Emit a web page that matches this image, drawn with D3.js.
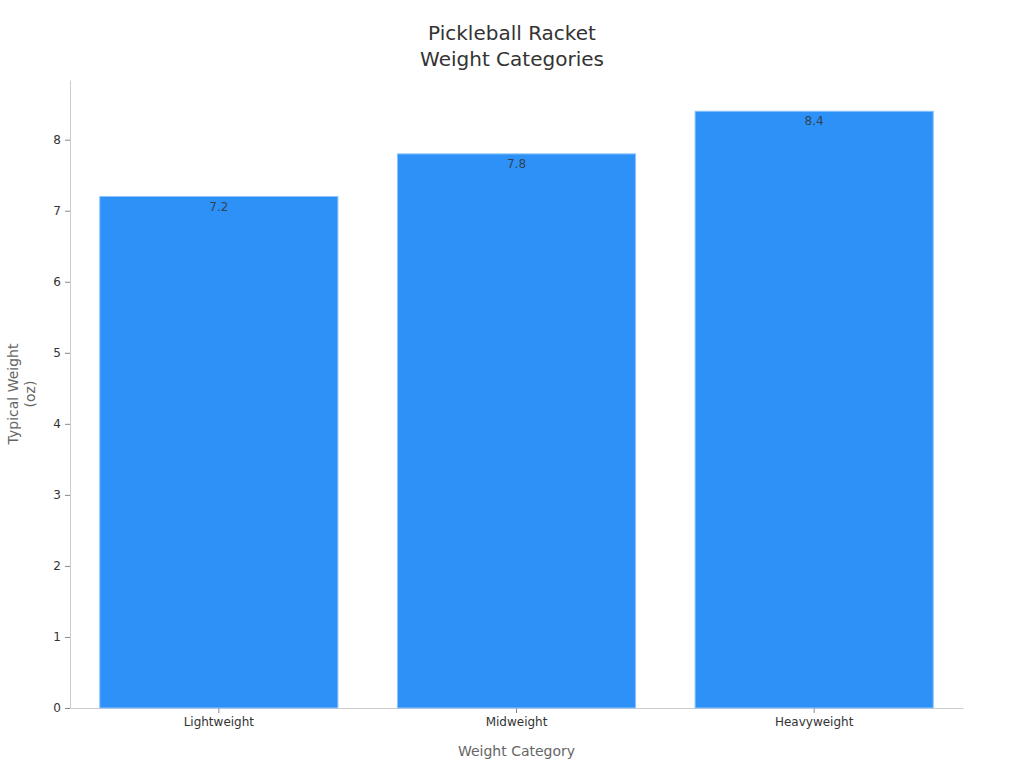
<!DOCTYPE html>
<html>
<head>
<meta charset="utf-8">
<script src="https://cdn.jsdelivr.net/npm/d3@7"></script>
<style>
  body { margin: 0; background: #fff; font-family: "DejaVu Sans", sans-serif; }
</style>
</head>
<body>
<div id="chart"></div>
<script>
// data
const categories = ["Lightweight", "Midweight", "Heavyweight"];
const weights = [7.2, 7.8, 8.4];
const yTicks = [0, 1, 2, 3, 4, 5, 6, 7, 8];

const W = 1024, H = 768;
const margin = {top: 80, right: 61, bottom: 60, left: 70};
const width = W - margin.left - margin.right;
const height = H - margin.top - margin.bottom;

const svg = d3.select("#chart").append("svg")
    .attr("width", W)
    .attr("height", H);

const g = svg.append("g")
    .attr("transform", `translate(${margin.left},${margin.top})`);

const x = d3.scaleBand()
    .domain(categories)
    .range([0, width])
    .paddingInner(0.2)
    .paddingOuter(0.1);

const y = d3.scaleLinear()
    .domain([0, 8.84])
    .range([height, 0]);

// axes
function styleAxis(sel) {
    sel.attr("font-family", "DejaVu Sans, sans-serif").attr("font-size", 12);
    sel.select(".domain").attr("stroke", "#ccc");
    sel.selectAll(".tick line").attr("stroke", "#888");
    sel.selectAll(".tick text").attr("fill", "#333");
}

g.append("g")
    .attr("transform", `translate(0,${height})`)
    .call(d3.axisBottom(x).tickSizeInner(5).tickSizeOuter(0).tickPadding(4))
    .call(styleAxis);

g.append("g")
    .call(d3.axisLeft(y).tickValues(yTicks).tickSizeInner(5).tickSizeOuter(0).tickPadding(4))
    .call(styleAxis);

// bars
g.selectAll(".bar")
    .data(weights)
    .enter().append("rect")
    .attr("class", "bar")
    .attr("x", (d, i) => x(categories[i]))
    .attr("width", x.bandwidth())
    .attr("y", d => y(d))
    .attr("height", d => height - y(d))
    .style("fill", "#2e91f7")
    .style("stroke", "#8cc4fb")
    .style("stroke-width", "1px");

// value labels
g.selectAll(".val")
    .data(weights)
    .enter().append("text")
    .attr("class", "val")
    .attr("x", (d, i) => x(categories[i]) + x.bandwidth() / 2)
    .attr("y", d => y(d) + 14)
    .attr("text-anchor", "middle")
    .style("font-size", "12px")
    .style("fill", "#333")
    .style("fill-opacity", 0.85)
    .text(d => d);

// titles
const title = svg.append("text")
    .attr("text-anchor", "middle")
    .style("font-size", "20px")
    .style("fill", "#333");
title.append("tspan").attr("x", 512).attr("y", 40).text("Pickleball Racket");
title.append("tspan").attr("x", 512).attr("y", 66).text("Weight Categories");

svg.append("text")
    .attr("x", margin.left + width / 2)
    .attr("y", 756)
    .attr("text-anchor", "middle")
    .style("font-size", "14px")
    .style("fill", "#666")
    .text("Weight Category");

const yl = svg.append("text")
    .attr("transform", `translate(0,${margin.top + height / 2}) rotate(-90)`)
    .attr("text-anchor", "middle")
    .style("font-size", "14px")
    .style("fill", "#666");
yl.append("tspan").attr("x", 0).attr("y", 18).text("Typical Weight");
yl.append("tspan").attr("x", 0).attr("y", 35).text("(oz)");
</script>
</body>
</html>
